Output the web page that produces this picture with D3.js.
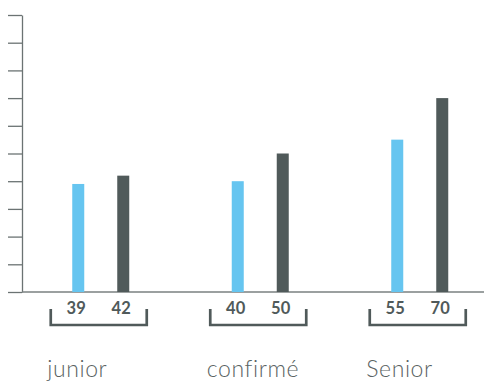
<!DOCTYPE html>
<html>
<head>
<meta charset="utf-8">
<script src="https://cdn.jsdelivr.net/npm/d3@7"></script>
<style>
  body { margin: 0; background: #fff; }
  svg { display: block; }
</style>
</head>
<body>
<script>
// data
var categories = ["junior", "confirmé", "Senior"]
var series = ["a", "b"]
var valuesA = [39, 40, 55]
var valuesB = [42, 50, 70]
var yTicks = [0, 10, 20, 30, 40, 50, 60, 70, 80, 90, 100]

var width = 484, height = 381
var colors = { a: "#66c5f0", b: "#505a5a" }
var ink = "#505a5a"

var svg = d3.select("body").append("svg")
  .attr("width", width)
  .attr("height", height)

var y = d3.scaleLinear().domain([0, 100]).range([292, 15])
var x = d3.scaleBand().domain(categories).range([21, 499.5])
var xs = d3.scalePoint().domain(series).range([-22.5, 22.5])

// y axis, ticks only
var yAxis = d3.axisLeft(y).tickValues(yTicks).tickSize(14).tickSizeOuter(0).tickFormat("")
var gy = svg.append("g").attr("transform", "translate(22,0)").call(yAxis)
gy.selectAll("path, line").attr("stroke", "#6b7373").attr("stroke-width", 1.3)

// baseline
svg.append("line")
  .attr("x1", 22).attr("x2", width)
  .attr("y1", y(0)).attr("y2", y(0))
  .attr("stroke", "#7a8080").attr("stroke-width", 1.3)

var rows = categories.map(function (c, i) {
  return { cat: c, a: valuesA[i], b: valuesB[i] }
})

var groups = svg.selectAll("g.grp").data(rows).enter().append("g")
  .attr("class", "grp")
  .attr("transform", function (d) { return "translate(" + (x(d.cat) + x.bandwidth() / 2) + ",0)" })

var barW = 12
groups.selectAll("rect").data(function (d) {
  return series.map(function (s) { return { s: s, v: d[s] } })
}).enter().append("rect")
  .attr("x", function (d) { return xs(d.s) - barW / 2 })
  .attr("width", barW)
  .attr("y", function (d) { return y(d.v) })
  .attr("height", function (d) { return y(0) - y(d.v) })
  .attr("fill", function (d) { return colors[d.s] })

// labels + bracket sit slightly left of the bars
var lab = groups.append("g").attr("transform", "translate(-2,0)")

lab.selectAll("text.val").data(function (d) {
  return series.map(function (s) { return { s: s, v: d[s] } })
}).enter().append("text")
  .attr("class", "val")
  .attr("x", function (d) { return xs(d.s) })
  .attr("y", 314)
  .attr("text-anchor", "middle")
  .attr("font-family", "Lato, 'Open Sans', sans-serif")
  .attr("font-weight", "bold")
  .attr("font-size", 16.5)
  .attr("letter-spacing", 0.3)
  .attr("fill", ink)
  .text(function (d) { return d.v })

lab.append("path")
  .attr("d", "M-48,309V325H48V309")
  .attr("fill", "none")
  .attr("stroke", ink)
  .attr("stroke-width", 2.7)

// category labels
lab.append("text")
  .attr("x", -51.5)
  .attr("y", 377)
  .attr("font-family", "Lato, 'Open Sans', sans-serif")
  .attr("font-weight", 300)
  .attr("font-size", 23)
  .attr("letter-spacing", 0.6)
  .attr("fill", "#5a6363")
  .text(function (d) { return d.cat })
</script>
</body>
</html>
